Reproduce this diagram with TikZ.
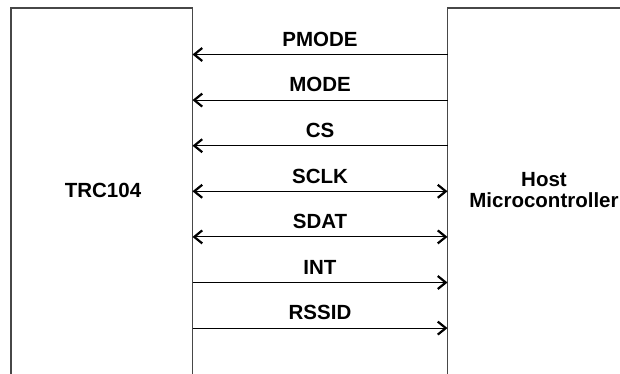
\documentclass[tikz,border=0pt]{standalone}
\usepackage{fontspec}
\setmainfont{Liberation Sans}
\usetikzlibrary{arrows.meta}
\tikzset{barbtip/.tip={Straight Barb[length=8pt,width=13pt,line width=2.2pt]}}
\begin{document}
\begin{tikzpicture}[x=1pt,y=-1pt,
  blockbox/.style={draw=black!72,line width=1.4pt,rectangle,inner sep=0pt,outer sep=0pt,anchor=north west},
  sig/.style={line width=1.1pt,black},
  toleft/.style={sig,{barbtip}-},
  toright/.style={sig,-{barbtip}},
  twoway/.style={sig,{barbtip}-{barbtip}},
  siglabel/.style={font=\fontsize{20.5}{22}\selectfont\bfseries,anchor=base,inner sep=0pt},
  blocklabel/.style={font=\fontsize{20.5}{21}\selectfont\bfseries,align=center,inner sep=0pt}]
\useasboundingbox (0,0) rectangle (620,373);
\node[blockbox,minimum width=181.5pt,minimum height=420pt] (trc) at (11,8) {};
\node[blockbox,minimum width=220pt,minimum height=420pt] (host) at (447.5,8) {};
\node[blocklabel] (trclbl) at (103,190.3) {TRC104};
\node[blocklabel] (hostlbl) at (544,190.5) {Host\\Microcontroller};
\foreach \y/\t/\n/\st in {54.5/PMODE/a/toleft,100.1/MODE/b/toleft,145.7/CS/c/toleft,191.3/SCLK/d/twoway,236.9/SDAT/e/twoway,282.5/INT/f/toright,328.1/RSSID/g/toright}{
  \coordinate (L\n) at (trc.east |- 0,\y);
  \coordinate (R\n) at (host.west |- 0,\y);
  \node[siglabel] (lbl\n) at (320,\y-8.3) {\t};
  \draw[\st] (L\n) -- (R\n);
}
\end{tikzpicture}
\end{document}
